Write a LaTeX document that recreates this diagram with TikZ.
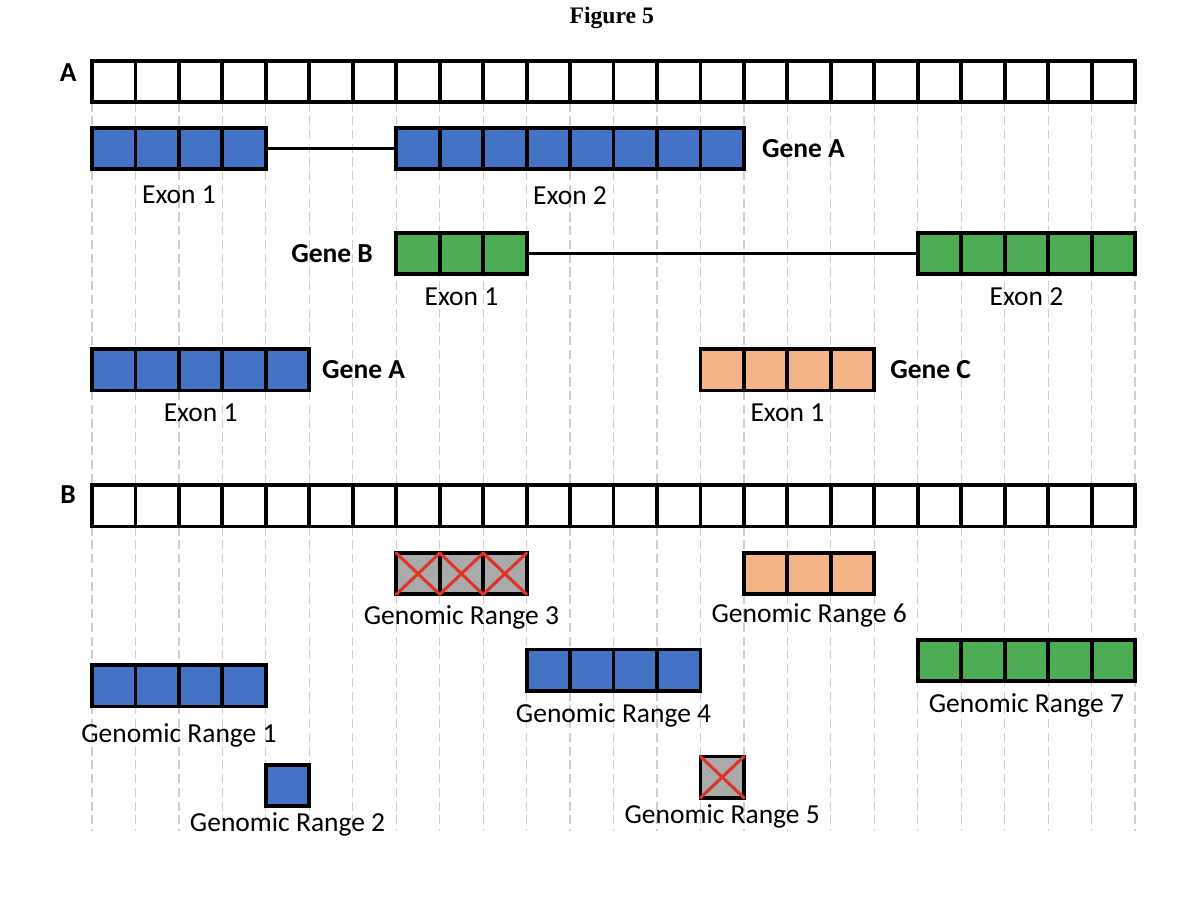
\documentclass[tikz,border=0pt]{standalone}
\usepackage{fontspec}
\setmainfont{Carlito}
\newfontfamily\titlefont{Liberation Serif}
\usepackage{tikz}
\usetikzlibrary{
  positioning,
  backgrounds
}
\definecolor{ExonBlue}{RGB}{68,114,196}
\definecolor{ExonGreen}{RGB}{76,173,84}
\definecolor{ExonPeach}{RGB}{244,180,136}
\definecolor{MaskGray}{RGB}{170,170,170}
\definecolor{CrossRed}{RGB}{222,52,40}
\definecolor{GuideGray}{RGB}{205,205,205}
% one block of #3 cells, named #1-1 ... #1-#3, first cell left edge at #2
\newcommand{\cellrow}[5]{%
  \foreach \i in {1,...,#3}
    \node[#5] (#1-\i) at ({#2+\i-0.5},#4) {};}

\begin{document}
\begin{tikzpicture}[
  cell/.style={draw=black,line width=2.5pt,minimum width=1cm,
    minimum height=0.95cm,inner sep=0pt,outer sep=0pt},
  refcell/.style={cell,fill=white},
  bluecell/.style={cell,fill=ExonBlue},
  greencell/.style={cell,fill=ExonGreen},
  peachcell/.style={cell,fill=ExonPeach},
  maskcell/.style={cell,fill=MaskGray},
  lbl/.style={font=\fontsize{18}{21}\selectfont,inner sep=0pt},
  gene/.style={font=\fontsize{18}{21}\selectfont\bfseries,inner sep=0pt},
  intron/.style={line width=1.6pt,black},
  xmark/.style={line width=2pt,CrossRed,line cap=round},
  guide/.style={GuideGray,line width=0.8pt,dash pattern=on 6pt off 3pt},
]
\useasboundingbox (-2.117,1.381) rectangle (25.494,-19.696);

\node[font=\titlefont\bfseries\fontsize{15.5}{18}\selectfont] (title) at (11.96,0.96) {Figure 5};

% —— reference bars ——
\node[gene] (secA) at (-0.55,-0.28) {A};
\cellrow{barA}{0}{24}{-0.5}{refcell}
\node[gene] (secB) at (-0.55,-10.01) {B};
\cellrow{barB}{0}{24}{-10.26}{refcell}

% —— panel A: genes ——
\cellrow{gA1}{0}{4}{-2.04}{bluecell}
\cellrow{gA2}{7}{8}{-2.04}{bluecell}
\draw[intron] (gA1-4.east) -- (gA2-1.west);
\node[gene,right=0.41cm of gA2-8] (labGA) {Gene A};
\node[lbl] (exA1) at (2.0,-3.11) {Exon 1};
\node[lbl] (exA2) at (11.0,-3.11) {Exon 2};

\cellrow{gB1}{7}{3}{-4.45}{greencell}
\cellrow{gB2}{19}{5}{-4.45}{greencell}
\draw[intron] (gB1-3.east) -- (gB2-1.west);
\node[gene,left=0.53cm of gB1-1] (labGB) {Gene B};
\node[lbl] (exB1) at (8.5,-5.45) {Exon 1};
\node[lbl] (exB2) at (21.5,-5.45) {Exon 2};

\cellrow{gA3}{0}{5}{-7.13}{bluecell}
\node[gene,right=0.29cm of gA3-5] (labGA3) {Gene A};
\node[lbl] (exA3) at (2.5,-8.12) {Exon 1};
\cellrow{gC1}{14}{4}{-7.13}{peachcell}
\node[gene,right=0.36cm of gC1-4] (labGC) {Gene C};
\node[lbl] (exC1) at (16.0,-8.12) {Exon 1};

% —— panel B: genomic ranges ——
\cellrow{gr1}{0}{4}{-14.40}{bluecell}
\node[lbl] (lgr1) at (2.0,-15.53) {Genomic Range 1};
\cellrow{gr2}{4}{1}{-16.69}{bluecell}
\node[lbl] (lgr2) at (4.5,-17.58) {Genomic Range 2};
\cellrow{gr3}{7}{3}{-11.82}{maskcell}
\node[lbl] (lgr3) at (8.5,-12.82) {Genomic Range 3};
\cellrow{gr4}{10}{4}{-14.04}{bluecell}
\node[lbl] (lgr4) at (12.0,-15.07) {Genomic Range 4};
\cellrow{gr5}{14}{1}{-16.50}{maskcell}
\node[lbl] (lgr5) at (14.5,-17.40) {Genomic Range 5};
\cellrow{gr6}{15}{3}{-11.82}{peachcell}
\node[lbl] (lgr6) at (16.5,-12.77) {Genomic Range 6};
\cellrow{gr7}{19}{5}{-13.82}{greencell}
\node[lbl] (lgr7) at (21.5,-14.86) {Genomic Range 7};

% masked cells crossed out
\foreach \n in {gr3-1,gr3-2,gr3-3,gr5-1}
  \draw[xmark] (\n.north west) -- (\n.south east)
               (\n.north east) -- (\n.south west);

% —— dashed guides behind everything ——
\coordinate (guideEnd) at (0,-17.75);
\begin{scope}[on background layer]
\foreach \k in {1,...,24}{
  \draw[guide] (barA-\k.south west) -- (barB-\k.north west);
  \draw[guide] (barB-\k.south west) -- (barB-\k.south west |- guideEnd);
}
\draw[guide] (barA-24.south east) -- (barB-24.north east);
\draw[guide] (barB-24.south east) -- (barB-24.south east |- guideEnd);
\end{scope}
\end{tikzpicture}
\end{document}
